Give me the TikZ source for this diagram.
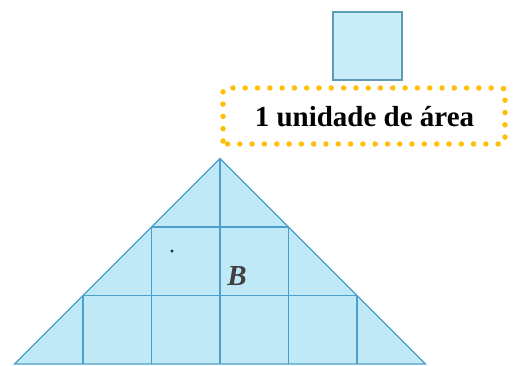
\documentclass[tikz,border=0pt]{standalone}
\usepackage{fontspec}
\setmainfont{Liberation Serif}
\definecolor{fillc}{HTML}{BFE9F6}
\definecolor{linec}{HTML}{4C9FCB}
\definecolor{sqfill}{HTML}{C9EEF9}
\definecolor{sqline}{HTML}{5E9CB4}
\definecolor{dotc}{HTML}{FFBE0A}
\tikzset{
  grid line/.style={draw=linec, line width=1.4pt},
  dotbox/.style={draw=dotc, line width=5.5pt, line cap=round, dash pattern=on 0pt off 12.3pt, rounded corners=3pt}
}
\begin{document}
\begin{tikzpicture}[x=1pt,y=1pt]
\useasboundingbox (0,0) rectangle (515,365);
% triangle
\coordinate (A) at (220,206.5);
\coordinate (L) at (14.5,1);
\coordinate (R) at (425.5,1);
\fill[fillc] (L) -- (A) -- (R) -- cycle;
% horizontal lines
\draw[grid line] (151.5,138) -- (288.5,138);
\draw[grid line] (83,69.5) -- (357,69.5);
% vertical lines
\draw[grid line] (220,1) -- (A);
\draw[grid line] (151.5,1) -- (151.5,138);
\draw[grid line] (288.5,1) -- (288.5,138);
\draw[grid line] (83,1) -- (83,69.5);
\draw[grid line] (357,1) -- (357,69.5);
\draw[grid line, line join=miter] (L) -- (A) -- (R) -- cycle;
\fill[black!85] (172,114) circle (1.6pt);
\node[text=black!75, font=\fontsize{29}{32}\selectfont\bfseries\itshape] (b) at (237,89) {B};
% unit square
\draw[draw=sqline, fill=sqfill, line width=1.3pt] (333,285) rectangle (402,353);
% dotted label box
\draw[dotbox] (223,221) rectangle (505,277);
\node[font=\fontsize{29}{32}\selectfont\bfseries] (lbl) at (364.5,248) {1 unidade de área};
\end{tikzpicture}
\end{document}
